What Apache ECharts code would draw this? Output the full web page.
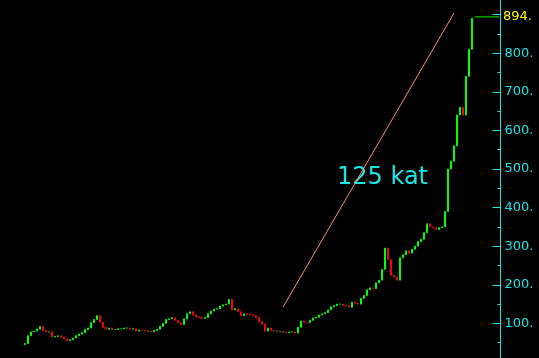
<!DOCTYPE html>
<html>
<head>
<meta charset="utf-8">
<style>html,body{margin:0;padding:0;background:#000;overflow:hidden;width:539px;height:358px;}#c{position:absolute;left:0;top:-24px;width:539px;height:386px;}</style>
<script src="https://cdn.jsdelivr.net/npm/echarts@6/dist/echarts.min.js"></script>
</head>
<body>
<div id="c"></div>
<script>
// Closing prices, one per bar (left to right)
const closes = [
  48, 68, 78, 80, 85, 92, 82, 78, 78, 65,
  66, 68, 64, 60, 55, 58, 62, 68, 72, 76,
  84, 88, 102, 110, 120, 103, 90, 85, 88, 84,
  84, 86, 86, 88, 88, 85, 86, 80, 83, 82,
  80, 80, 78, 82, 85, 92, 100, 110, 112, 115,
  108, 102, 97, 112, 125, 130, 122, 117, 115, 113,
  115, 125, 132, 137, 138, 145, 148, 150, 162, 135,
  138, 130, 120, 125, 123, 122, 120, 115, 105, 98,
  80, 88, 82, 80, 80, 78, 78, 76, 78, 78,
  75, 90, 106, 103, 102, 108, 114, 116, 122, 125,
  128, 135, 143, 146, 150, 150, 147, 146, 142, 155,
  152, 150, 165, 172, 187, 192, 190, 205, 212, 240,
  295, 265, 225, 220, 212, 270, 278, 288, 282, 292,
  300, 312, 318, 335, 358, 350, 348, 343, 348, 350,
  390, 500, 520, 560, 640, 660, 640, 740, 810, 890
];
const firstOpen = 45;
const lastPrice = 894;
const extraSlots = 9;
const trendStart = [86, 142];
const trendEnd = [143, 904];
const annotation = '125 kat';
const yTicks = [100, 200, 300, 400, 500, 600, 700, 800, 900];

const total = closes.length + extraSlots;
const cats = [];
for (let i = 0; i < total; i++) cats.push(String(i));

const candles = closes.map((c, i) => {
  const o = i === 0 ? firstOpen : closes[i - 1];
  return [o, c, Math.min(o, c), Math.max(o, c)];
});
const priceLine = [];
for (let i = 0; i < total; i++) priceLine.push(i >= closes.length ? lastPrice : null);

const chart = echarts.init(document.getElementById('c'), null, {renderer: 'canvas'});
chart.setOption({
  backgroundColor: '#000000',
  animation: false,
  grid: {left: 23.5, right: 38.5, top: 0, bottom: 0},
  xAxis: {
    type: 'category', data: cats, boundaryGap: true, show: false
  },
  yAxis: {
    type: 'value', position: 'right', min: 0, max: 1000, interval: 100,
    axisLine: {show: true, lineStyle: {color: '#19e6e6', width: 1}},
    axisTick: {show: true, inside: true, length: 8, lineStyle: {color: '#19e6e6'}},
    minorTick: {show: true, splitNumber: 2, length: 3, lineStyle: {color: '#19e6e6'}},
    splitLine: {show: false},
    axisLabel: {
      color: '#19e6e6', fontFamily: 'DejaVu Sans', fontSize: 13, margin: 4,
      formatter: v => (yTicks.indexOf(v) >= 0 && v !== 900) ? v + '.' : ''
    }
  },
  series: [
    {
      type: 'candlestick', data: candles, barWidth: 2,
      itemStyle: {color: '#00ff00', color0: '#ff0000', borderColor: '#00ff00', borderColor0: '#ff0000', borderWidth: 1}
    },
    {
      type: 'line', data: priceLine, symbol: 'none',
      lineStyle: {color: '#00ff00', width: 1},
      endLabel: {show: true, formatter: lastPrice + '.', color: '#ffff00', fontFamily: 'DejaVu Sans', fontSize: 13, distance: 4}
    },
    {
      type: 'line', data: [trendStart, trendEnd], symbol: 'none',
      lineStyle: {color: '#ff8c5a', width: 1}
    }
  ],
  graphic: [{
    type: 'text', left: 337, top: 190,
    style: {text: annotation, fill: '#19e6e6', font: '24px "DejaVu Sans"'}
  }]
});
</script>
</body>
</html>
